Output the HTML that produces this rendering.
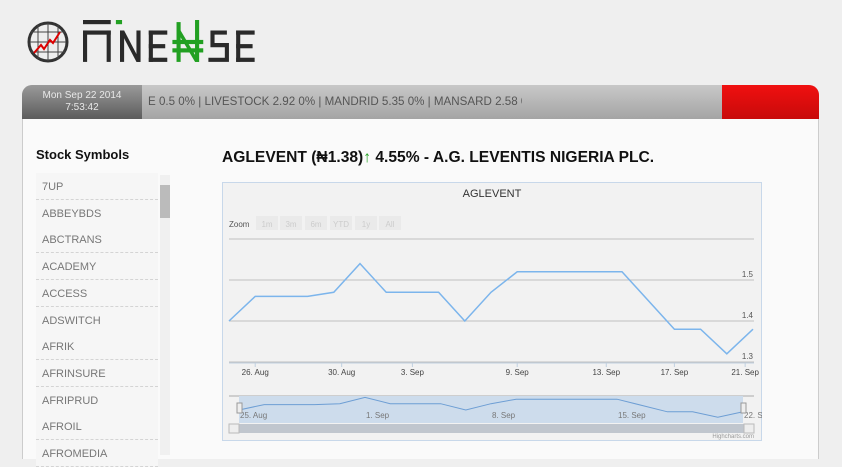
<!DOCTYPE html>
<html><head><meta charset="utf-8">
<style>
*{box-sizing:border-box;margin:0;padding:0}
body{width:842px;height:453px;overflow:hidden;background:#efefef;font-family:"Liberation Sans",sans-serif;position:relative}
.abs{position:absolute}
#bar{left:22px;top:85px;width:797px;height:34px;border-radius:10px 10px 0 0;overflow:hidden;background:linear-gradient(#c8c8c8,#a4a4a4)}
#datebox{left:0;top:0;width:120px;height:34px;background:linear-gradient(#9a9a9a,#5c5c5c);color:#e8e8e8;font-size:10px;text-align:center;line-height:12px;padding-top:5px}
#ticker{left:126px;top:10px;font-size:11.6px;color:#555;white-space:nowrap;width:374px;overflow:hidden}
#red{left:700px;top:0;width:97px;height:34px;background:linear-gradient(#f01010,#c80a0a)}
#content{left:22px;top:119px;width:797px;height:340px;background:#fafafa;border-left:1px solid #ccc;border-right:1px solid #ccc}
.item{position:absolute;left:36px;width:122px;height:27px;border-bottom:1px dashed #d4d4d4;font-size:11px;color:#777;padding:8px 0 0 6px;background:#f6f6f6}
</style></head><body>
<svg class="abs" style="left:26px;top:20px" width="50" height="46">
<circle cx="22" cy="22" r="19" fill="#eee" stroke="#333" stroke-width="3"/>
<g stroke="#444" stroke-width="1"><line x1="5" y1="12" x2="39" y2="12"/><line x1="4" y1="22" x2="40" y2="22"/><line x1="5" y1="32" x2="39" y2="32"/><line x1="12" y1="5" x2="12" y2="39"/><line x1="22" y1="3" x2="22" y2="41"/><line x1="32" y1="5" x2="32" y2="39"/></g>
<polyline points="8,33 15,25 18,29 24,20 27,23 34,12" fill="none" stroke="#d00" stroke-width="2"/></svg>
<div class="abs" style="left:83px;top:20px;width:185px;height:44px">
<svg width="185" height="44" viewBox="0 0 180 42" preserveAspectRatio="none"><g fill="#2a2a2a">
<rect x="0" y="0" width="27" height="4"/><rect x="0" y="10" width="27" height="4"/><rect x="0" y="10" width="4" height="30"/><rect x="23" y="10" width="4" height="30"/>
<rect x="36" y="10" width="4" height="30"/><rect x="52" y="10" width="4" height="30"/><polygon points="36,10 40,10 56,40 52,40"/>
<rect x="64" y="10" width="4" height="30"/><rect x="64" y="10" width="18" height="4"/><rect x="64" y="23" width="16" height="4"/><rect x="64" y="36" width="18" height="4"/>
<path d="M140 10h-16v16h14v10h-16v4h20v-18h-14v-8h12z"/>
<rect x="149" y="10" width="4" height="30"/><rect x="149" y="10" width="18" height="4"/><rect x="149" y="23" width="16" height="4"/><rect x="149" y="36" width="18" height="4"/></g>
<g fill="#22a022"><rect x="32" y="-2" width="6" height="6"/><rect x="91" y="2" width="4" height="38"/><rect x="109" y="-2" width="4" height="42"/><polygon points="91,10 95,10 113,40 109,40"/><rect x="87" y="19" width="30" height="4"/><rect x="87" y="27" width="30" height="4"/></g></svg></div>
<div id="bar" class="abs">
<div id="datebox" class="abs">Mon Sep 22 2014<br>7:53:42</div>
<div id="ticker" class="abs">E 0.5 0% | LIVESTOCK 2.92 0% | MANDRID 5.35 0% | MANSARD 2.58 0% | MA</div>
<div id="red" class="abs"></div></div>
<div id="content" class="abs"></div>
<div class="abs" style="left:36px;top:147px;font-size:13px;font-weight:bold;color:#111">Stock Symbols</div>
<div id="list"></div>
<div class="abs" style="left:160px;top:175px;width:10px;height:280px;background:#f0f0f0"><div style="margin-top:10px;height:33px;background:#bbb"></div></div>
<div class="abs" style="left:222px;top:149px;font-size:15.6px;font-weight:bold;color:#111">AGLEVENT (₦1.38)<span style="color:#22a022">↑</span> 4.55% - A.G. LEVENTIS NIGERIA PLC.</div>
<svg class="abs" style="left:222px;top:182px" width="540" height="260" id="chart"></svg>
<script>
const symbols=["7UP","ABBEYBDS","ABCTRANS","ACADEMY","ACCESS","ADSWITCH","AFRIK","AFRINSURE","AFRIPRUD","AFROIL","AFROMEDIA"];
const slots=[0,1,3,4,5,6,8,9,10,11,15,17,18,19,20];
const prices=[1.40,1.46,1.46,1.47,1.54,1.47,1.47,1.40,1.47,1.52,1.52,1.38,1.38,1.32,1.38];
const tickLabels=["26. Aug","30. Aug","3. Sep","9. Sep","13. Sep","17. Sep","21. Sep"];
const tickSlots=[1,4.3,7.0,11.0,14.4,17.0,19.7];
const yTicks=[1.3,1.4,1.5,1.6];
const navLabels=["25. Aug","1. Sep","8. Sep","15. Sep","22. Sep"];
const navSlots=[0,5,10,15,20];

const list=document.getElementById('list');
symbols.forEach((s,i)=>{const d=document.createElement('div');d.className='item';d.style.top=(173+i*26.7)+'px';d.textContent=s;


list.appendChild(d);});

const svg=document.getElementById('chart');const NS='http://www.w3.org/2000/svg';
function el(t,a,p){const e=document.createElementNS(NS,t);for(const k in a)e.setAttribute(k,a[k]);(p||svg).appendChild(e);return e;}
const x=s=>7+s*26.2; const y=v=>139-(v-1.4)*410;
const nx=s=>17+s*25.2; const ny=v=>237-(v-1.3)*90;
const bg=el('rect',{x:0.5,y:0.5,width:539,height:258,fill:'#f2f2f2',stroke:'#c8d8ea'});


let t=el('text',{x:270,y:15,'text-anchor':'middle','font-size':11,fill:'#333'});t.textContent='AGLEVENT';


let z=el('text',{x:7,y:45,'font-size':8,fill:'#555'});z.textContent='Zoom';


[["1m",34],["3m",58],["6m",83],["YTD",108],["1y",133],["All",157]].forEach(b=>{
const g=el('g',{});

el('rect',{x:b[1],y:34,width:22,height:14,fill:'#eaeaea'},g);const tt=el('text',{x:b[1]+11,y:45,'text-anchor':'middle','font-size':8,fill:'#ccc'},g);tt.textContent=b[0];});
yTicks.forEach(v=>{const l=el('line',{x1:7,x2:532,y1:y(v),y2:y(v),stroke:'#c0c0c0'});


if(v<1.6){const tx=el('text',{x:531,y:y(v)-3,'text-anchor':'end','font-size':8,fill:'#555'});tx.textContent=v.toFixed(1);

}});
const ax=el('line',{x1:7,x2:532,y1:y(1.3)+1,y2:y(1.3)+1,stroke:'#c0d0e0'});


tickLabels.forEach((lb,i)=>{el('line',{x1:x(tickSlots[i]),x2:x(tickSlots[i]),y1:y(1.3)+1,y2:y(1.3)+5,stroke:'#c0d0e0'});
const tx=el('text',{x:x(tickSlots[i]),y:y(1.3)+13,'text-anchor':'middle','font-size':8,fill:'#444'});tx.textContent=lb;

});
const line=el('polyline',{points:slots.map((s,i)=>x(s)+','+y(prices[i])).join(' '),fill:'none',stroke:'#7cb5ec','stroke-width':1.5});


el('line',{x1:7,x2:532,y1:214,y2:214,stroke:'#aaa'});
const nb=el('rect',{x:17,y:214,width:504,height:27,fill:'#cddcec'});


const nl=el('polyline',{points:slots.map((s,i)=>nx(s)+','+ny(prices[i])).join(' '),fill:'none',stroke:'#6d9ed4','stroke-width':1});


navLabels.forEach((lb,i)=>{const tx=el('text',{x:nx(navSlots[i])+1,y:236,'font-size':8,fill:'#777'});tx.textContent=lb;

});
[15,519].forEach(hx=>{const h=el('rect',{x:hx,y:221,width:5,height:10,fill:'#eee',stroke:'#999'});

});
const sb=el('rect',{x:7,y:242,width:525,height:9,fill:'#c0c6ce'});


el('rect',{x:7,y:242,width:10,height:9,fill:'#eee',stroke:'#bbb'});el('rect',{x:522,y:242,width:10,height:9,fill:'#eee',stroke:'#bbb'});
const hc=el('text',{x:532,y:256,'text-anchor':'end','font-size':6,fill:'#999'});hc.textContent='Highcharts.com';


</script>
</body></html>
